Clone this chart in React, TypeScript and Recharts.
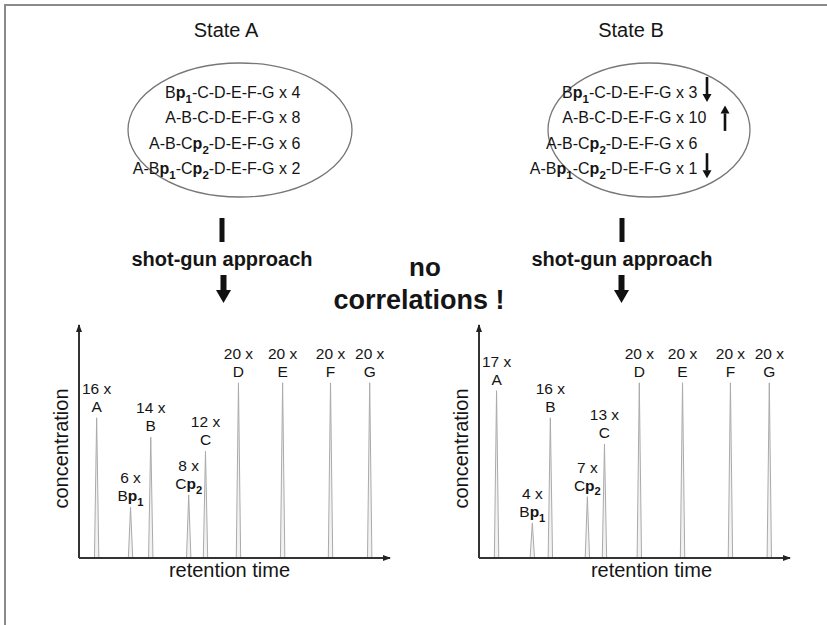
import { ComposedChart, Bar, XAxis, YAxis, Label } from 'recharts';

const FONT = '"Liberation Sans", Arial, Helvetica, sans-serif';
const INK = '#151515';

// sequences inside the two ellipses
const seqPrefixes = ['Bp1-C-D-E-F-G', 'A-B-C-D-E-F-G', 'A-B-Cp2-D-E-F-G', 'A-Bp1-Cp2-D-E-F-G'];
const stateACounts = [4, 8, 6, 2];
const stateBCounts = [3, 10, 6, 1];
const stateBChange = ['down', 'up', '', 'down'];

// chromatogram peaks
const peakNames = ['A', 'Bp1', 'B', 'Cp2', 'C', 'D', 'E', 'F', 'G'];
const leftTimes = [5.8, 16.7, 23.2, 35.4, 40.8, 51.4, 65.6, 81.0, 93.6];
const leftHeights = [16, 5.8, 13.8, 7.2, 12.2, 20, 20, 20, 20];
const leftCounts = [16, 6, 14, 8, 12, 20, 20, 20, 20];
const rightTimes = [5.5, 17.0, 22.8, 34.7, 40.2, 51.4, 65.3, 80.7, 93.2];
const rightHeights = [19.1, 4.0, 16, 7.0, 13.0, 20, 20, 20, 20];
const rightCounts = [17, 4, 16, 7, 13, 20, 20, 20, 20];

// "Bp1" -> B, bold p, bold subscript 1
function seqSpans(spec: string, size: number) {
  const segs: { text: string; bold?: boolean; sub?: boolean }[] = [];
  let buf = '';
  for (let i = 0; i < spec.length; i++) {
    const c = spec[i];
    if (c === 'p' && /\d/.test(spec[i + 1] || '')) {
      if (buf) segs.push({ text: buf });
      buf = '';
      segs.push({ text: 'p', bold: true });
      segs.push({ text: spec[i + 1], bold: true, sub: true });
      i++;
    } else {
      buf += c;
    }
  }
  if (buf) segs.push({ text: buf });
  const d = size * 0.3;
  return segs.map((s, i) => {
    const prevSub = i > 0 && segs[i - 1].sub;
    const dy = s.sub ? d : prevSub ? -d : undefined;
    return (
      <tspan key={i} dy={dy} fontWeight={s.bold ? 'bold' : undefined} fontSize={s.sub ? size * 0.72 : undefined}>
        {s.text}
      </tspan>
    );
  });
}

function VArrow({ x, y1, y2, up = false, shaft = 2.6, head = 9, len = 8 }: any) {
  const tip = up ? y1 : y2;
  const base = up ? y1 + len : y2 - len;
  const s0 = up ? base : y1;
  const s1 = up ? y2 : base;
  return (
    <g fill="#111">
      <rect x={x - shaft / 2} y={s0} width={shaft} height={s1 - s0 + 0.5} />
      <polygon points={`${x - head / 2},${base} ${x + head / 2},${base} ${x},${tip}`} />
    </g>
  );
}

function Spike(props: any) {
  const { x, y, width, height, payload } = props;
  if (x == null || y == null) return null;
  const cx = x + width / 2;
  const base = y + height;
  const gap = 6;
  return (
    <g>
      <polygon
        points={`${cx - 2.2},${base} ${cx},${y} ${cx + 2.2},${base}`}
        fill="#f2f2f2"
        stroke="#aaa"
        strokeWidth={1}
      />
      <text x={cx} y={y - gap - 18} textAnchor="middle" fontSize={15.5} fill={INK} fontFamily={FONT}>
        {payload.count} x
      </text>
      <text x={cx} y={y - gap} textAnchor="middle" fontSize={15.5} fill={INK} fontFamily={FONT}>
        {seqSpans(payload.name, 15.5)}
      </text>
    </g>
  );
}

function Chromatogram({ times, heights, counts, left, xTitleDx }: any) {
  const rows = times.map((t: number, i: number) => ({ t, h: heights[i], count: counts[i], name: peakNames[i] }));
  return (
    <div style={{ position: 'absolute', left, top: 310 }}>
      <ComposedChart width={360} height={280} data={rows} margin={{ top: 15, right: 10, bottom: 30, left: 37 }}>
        <XAxis
          type="number"
          dataKey="t"
          domain={[0, 100]}
          tick={false}
          tickLine={false}
          height={2}
          axisLine={{ stroke: '#333', strokeWidth: 2, markerEnd: 'url(#axisHead)' }}
        >
          <Label
            content={(p: any) => {
              const vb = p.viewBox;
              return (
                <text x={vb.x + vb.width / 2 + xTitleDx} y={vb.y + 19} textAnchor="middle" fontSize={20} fill={INK} fontFamily={FONT}>
                  retention time
                </text>
              );
            }}
          />
        </XAxis>
        <YAxis
          type="number"
          domain={[0, 26.6]}
          tick={false}
          tickLine={false}
          width={2}
          axisLine={{ stroke: '#333', strokeWidth: 2, markerStart: 'url(#axisHeadRev)' }}
        >
          <Label
            content={(p: any) => {
              const vb = p.viewBox;
              const cx = vb.x + vb.width - 11;
              const cy = vb.y + vb.height / 2 + 7;
              return (
                <text transform={`translate(${cx},${cy}) rotate(-90)`} textAnchor="middle" fontSize={20} fill={INK} fontFamily={FONT}>
                  concentration
                </text>
              );
            }}
          />
        </YAxis>
        <Bar dataKey="h" barSize={4} shape={<Spike />} isAnimationActive={false} />
      </ComposedChart>
    </div>
  );
}

function StateBlock({ cx, rx, textEnd, counts, changes, title, titleX, stemX, arrowX }: any) {
  return (
    <g fontFamily={FONT} fill={INK}>
      <text x={titleX} y={37} textAnchor="middle" fontSize={20}>{title}</text>
      <ellipse cx={cx} cy={130} rx={rx} ry={67} fill="none" stroke="#777" strokeWidth={1.3} />
      {seqPrefixes.map((s, i) => (
        <g key={i}>
          <text x={textEnd} y={98 + i * 25.4} textAnchor="end" fontSize={16}>
            {seqSpans(s, 16)}
            <tspan> x</tspan>
          </text>
          <text x={textEnd + 4.5} y={98 + i * 25.4} fontSize={16}>{counts[i]}</text>
        </g>
      ))}
      {changes &&
        changes.map((c: string, i: number) =>
          c === 'down' ? (
            <VArrow key={i} x={textEnd + 23} y1={77 + i * 25.4} y2={102 + i * 25.4} />
          ) : c === 'up' ? (
            <VArrow key={i} x={textEnd + 41} y1={80 + i * 25.4} y2={105 + i * 25.4} up />
          ) : null
        )}
      <rect x={stemX - 2.5} y={218} width={5} height={24} fill="#111" />
      <text x={stemX} y={266} textAnchor="middle" fontSize={20} fontWeight="bold">shot-gun approach</text>
      <VArrow x={arrowX} y1={275} y2={303} shaft={6} head={15} len={13} />
    </g>
  );
}

export default function App() {
  return (
    <div style={{ position: 'absolute', left: 0, top: 0, width: 827, height: 625, background: '#fff', overflow: 'hidden' }}>
      <svg width={827} height={625} style={{ position: 'absolute', left: 0, top: 0 }}>
        <defs>
          <marker id="axisHead" viewBox="0 0 8 6" refX={7} refY={3} markerWidth={8} markerHeight={6} markerUnits="userSpaceOnUse" orient="auto">
            <path d="M0,0 L8,3 L0,6 z" fill="#222" />
          </marker>
          <marker id="axisHeadRev" viewBox="0 0 8 6" refX={7} refY={3} markerWidth={8} markerHeight={6} markerUnits="userSpaceOnUse" orient="auto-start-reverse">
            <path d="M0,0 L8,3 L0,6 z" fill="#222" />
          </marker>
        </defs>
        <line x1={4} y1={5} x2={827} y2={5} stroke="#8a8a8a" strokeWidth={2} />
        <line x1={5} y1={4} x2={5} y2={625} stroke="#8a8a8a" strokeWidth={2} />
        <StateBlock cx={240} rx={112} textEnd={287} counts={stateACounts} title="State A" titleX={226} stemX={222} arrowX={223.5} />
        <StateBlock cx={649} rx={101} textEnd={684} counts={stateBCounts} changes={stateBChange} title="State B" titleX={631} stemX={622} arrowX={621.5} />
        <g fontFamily={FONT} fill={INK} fontWeight="bold" textAnchor="middle">
          <text x={425} y={276} fontSize={26}>no</text>
          <text x={419} y={309} fontSize={27}>correlations !</text>
        </g>
      </svg>
      <Chromatogram times={leftTimes} heights={leftHeights} counts={leftCounts} left={40} xTitleDx={-5} />
      <Chromatogram times={rightTimes} heights={rightHeights} counts={rightCounts} left={440} xTitleDx={17} />
    </div>
  );
}
